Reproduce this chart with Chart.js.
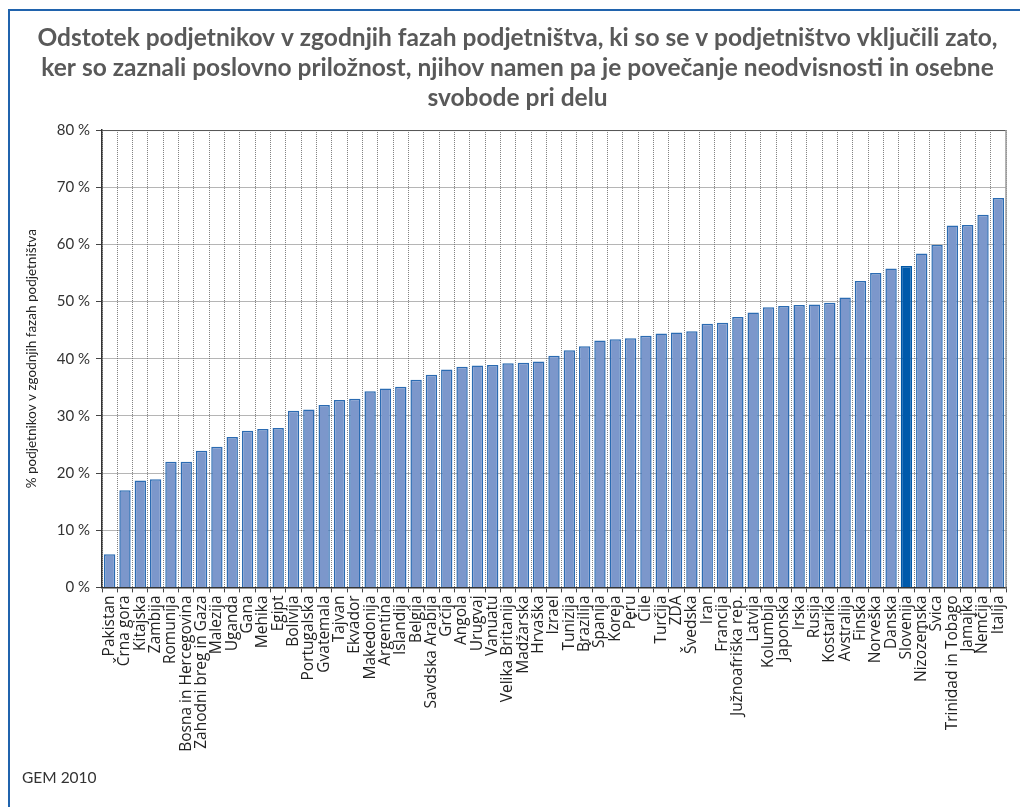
<!DOCTYPE html>
<html lang="sl">
<head>
<meta charset="utf-8">
<title>Podjetniki v zgodnjih fazah</title>
<script src="https://cdn.jsdelivr.net/npm/chart.js@4.4.1/dist/chart.umd.min.js"></script>
<style>
  html, body { margin: 0; padding: 0; background: #fff; overflow: hidden; }
  #wrap { position: relative; width: 1020px; height: 807px; }
  #frame {
    position: absolute; left: 8px; top: 9px; width: 1100px; height: 900px;
    border-left: 2px solid #2063ad; border-top: 2px solid #2063ad;
    pointer-events: none;
  }
  canvas { position: absolute; left: 0; top: 0; }
</style>
</head>
<body>
<div id="wrap">
  <canvas id="chart" width="1020" height="807"></canvas>
  <div id="frame"></div>
</div>
<script>
const countries = [
  "Pakistan", "Črna gora", "Kitajska", "Zambija", "Romunija",
  "Bosna in Hercegovina", "Zahodni breg in Gaza", "Malezija", "Uganda", "Gana",
  "Mehika", "Egipt", "Bolivija", "Portugalska", "Gvatemala",
  "Tajvan", "Ekvador", "Makedonija", "Argentina", "Islandija",
  "Belgija", "Savdska Arabija", "Grčija", "Angola", "Urugvaj",
  "Vanuatu", "Velika Britanija", "Madžarska", "Hrvaška", "Izrael",
  "Tunizija", "Brazilija", "Španija", "Koreja", "Peru",
  "Čile", "Turčija", "ZDA", "Švedska", "Iran",
  "Francija", "Južnoafriška rep.", "Latvija", "Kolumbija", "Japonska",
  "Irska", "Rusija", "Kostarika", "Avstralija", "Finska",
  "Norveška", "Danska", "Slovenija", "Nizozemska", "Švica",
  "Trinidad in Tobago", "Jamajka", "Nemčija", "Italija"
];

// % of early-stage entrepreneurs (opportunity-driven, seeking independence)
const shares = [
  5.8, 17.0, 18.7, 18.9, 22.0, 22.0, 23.9, 24.6, 26.3, 27.4,
  27.7, 27.9, 30.9, 31.1, 31.9, 32.8, 33.0, 34.3, 34.8, 35.1,
  36.3, 37.2, 38.1, 38.6, 38.8, 38.9, 39.2, 39.3, 39.5, 40.5,
  41.5, 42.2, 43.2, 43.4, 43.6, 44.0, 44.4, 44.6, 44.8, 46.1,
  46.3, 47.3, 48.1, 49.0, 49.2, 49.4, 49.5, 49.8, 50.7, 53.6,
  55.0, 55.8, 56.2, 58.4, 59.9, 63.3, 63.4, 65.2, 68.1
];

const highlighted = "Slovenija";

const titleLines = [
  "Odstotek podjetnikov v zgodnjih fazah podjetništva, ki so se v podjetništvo vključili zato,",
  "ker so zaznali poslovno priložnost, njihov namen pa je povečanje neodvisnosti in osebne",
  "svobode pri delu"
];
const yAxisTitle = "% podjetnikov v zgodnjih fazah podjetništva";
const sourceNote = "GEM 2010";

const barFill = countries.map((c) => (c === highlighted ? "#005aab" : "#7c97cb"));
const barEdge = countries.map((c) => (c === highlighted ? "#0057a6" : "#2b6bb2"));

// solid top and right edge of the plot box
const plotEdges = {
  id: "plotEdges",
  afterDatasetsDraw(chart) {
    const { ctx, chartArea: a } = chart;
    ctx.save();
    ctx.lineWidth = 1;
    ctx.strokeStyle = "#555";
    ctx.beginPath();
    ctx.moveTo(a.left, a.top + 0.5);
    ctx.lineTo(a.right, a.top + 0.5);
    ctx.stroke();
    ctx.strokeStyle = "#9a9a9a";
    ctx.lineWidth = 1.5;
    ctx.beginPath();
    ctx.moveTo(a.right, a.top);
    ctx.lineTo(a.right, a.bottom);
    ctx.stroke();
    ctx.restore();
  }
};

new Chart(document.getElementById("chart"), {
  type: "bar",
  data: {
    labels: countries,
    datasets: [{
      data: shares,
      backgroundColor: barFill,
      borderColor: barEdge,
      borderWidth: 1.5,
      borderSkipped: "bottom",
      categoryPercentage: 1,
      barPercentage: 0.74
    }]
  },
  options: {
    responsive: false,
    devicePixelRatio: 1,
    animation: false,
    layout: { padding: { left: 22, right: 7, top: 0, bottom: 0 } },
    plugins: {
      legend: { display: false },
      tooltip: { enabled: false },
      title: {
        display: true,
        text: titleLines,
        color: "#595959",
        font: { family: "Lato", size: 24.5, weight: "bold", lineHeight: 1.225 },
        padding: { top: 23, bottom: 17 }
      },
      subtitle: {
        display: true,
        text: sourceNote,
        position: "bottom",
        align: "start",
        color: "#333",
        font: { family: "Lato", size: 15.5, lineHeight: 1.2 },
        padding: { top: 0, bottom: 20 }
      }
    },
    scales: {
      x: {
        afterFit(scale) { scale.height = 181; },
        grid: {
          offset: true,
          color: "#808080",
          lineWidth: 1,
          tickColor: "#444",
          tickLength: 5
        },
        border: { display: true, color: "#333", width: 1.5, dash: [1, 1] },
        ticks: {
          autoSkip: false,
          minRotation: 90,
          maxRotation: 90,
          padding: 3,
          color: "#222",
          font: { family: "Open Sans", size: 15.5 }
        }
      },
      y: {
        min: 0,
        max: 80,
        afterFit(scale) { scale.width = 80; },
        grid: {
          color: "#6a6a6a",
          lineWidth: 1,
          tickColor: "#444",
          tickLength: 6
        },
        border: { display: true, color: "#333", width: 1.5, dash: [1, 1] },
        ticks: {
          stepSize: 10,
          padding: 6,
          color: "#333",
          font: { family: "Lato", size: 15 },
          callback: (v) => v + " %"
        },
        title: {
          display: true,
          text: yAxisTitle,
          color: "#222",
          font: { family: "Lato", size: 13.5, lineHeight: 1.2 },
          padding: { top: 2, bottom: 0 }
        }
      }
    }
  },
  plugins: [plotEdges]
});
</script>
</body>
</html>
